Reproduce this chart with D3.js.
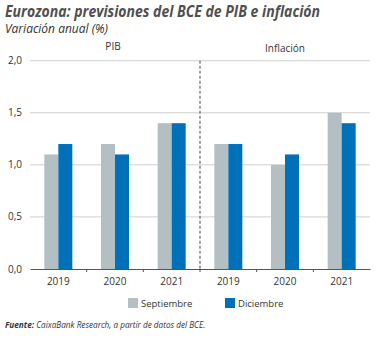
<!DOCTYPE html>
<html><head><meta charset="utf-8">
<script src="https://cdn.jsdelivr.net/npm/d3@7"></script>
<style>body{margin:0;background:#fff;} svg{display:block;font-family:"Open Sans",sans-serif;}</style>
</head><body>
<svg id="c" width="389" height="338"></svg>
<script>
const categories = ["2019","2020","2021","2019 ","2020 ","2021 "];
const tickLabels = ["2019","2020","2021","2019","2020","2021"];
const groups = ["PIB","Inflación"];
const septiembre = [1.1,1.2,1.4,1.2,1.0,1.5];
const diciembre = [1.2,1.1,1.4,1.2,1.1,1.4];
const yTicks = [0,0.5,1,1.5,2];
const seriesNames = ["Septiembre","Diciembre"];
const colors = ["#b4bfc4","#0071b9"];

const svg = d3.select("#c");
const L=30, R=370, T=60.7, B=269;
const x = d3.scaleBand().domain(categories).range([L,R]);
const y = d3.scaleLinear().domain([0,2]).range([B,T]);
const fmt = d => d3.format(".1f")(d).replace(".",",");

// title
svg.append("text").attr("x",5).attr("y",16.5).attr("font-size",15.5).attr("font-weight","bold").attr("font-style","italic").attr("fill","#505050").attr("textLength",315).attr("lengthAdjust","spacingAndGlyphs").text("Eurozona: previsiones del BCE de PIB e inflación");
svg.append("text").attr("x",5).attr("y",33).attr("font-size",12).attr("font-style","italic").attr("fill","#333").attr("textLength",103).attr("lengthAdjust","spacingAndGlyphs").text("Variación anual (%)");

// grid
svg.append("g").selectAll("line").data(yTicks.filter(d=>d>0)).join("line")
 .attr("x1",L).attr("x2",R).attr("y1",d=>y(d)).attr("y2",d=>y(d)).attr("stroke","#cfcfcf").attr("stroke-width",1);
svg.append("g").selectAll("text").data(yTicks).join("text")
 .attr("x",22).attr("y",d=>y(d)+3.5).attr("text-anchor","end").attr("font-size",10).attr("fill","#333").text(fmt);

// bars
const bw = 14;
const bars = svg.append("g");
categories.forEach((c,i)=>{
  const cx = x(c)+x.bandwidth()/2;
  bars.append("rect").attr("x",cx-bw).attr("width",bw).attr("y",y(septiembre[i])).attr("height",B-y(septiembre[i])).attr("fill",colors[0]);
  bars.append("rect").attr("x",cx).attr("width",bw).attr("y",y(diciembre[i])).attr("height",B-y(diciembre[i])).attr("fill",colors[1]);
});

// x axis
const xa = d3.axisBottom(x).tickSize(0).tickFormat((d,i)=>tickLabels[i]);
const gx = svg.append("g").attr("transform",`translate(0,${B})`).call(xa);
gx.select(".domain").attr("stroke","#555");
gx.selectAll("text").attr("font-size",10).attr("fill","#333").attr("dy","1.3em").attr("font-family","Open Sans");
// between-category ticks
svg.append("g").selectAll("line").data(categories.slice(1)).join("line")
 .attr("x1",d=>x(d)).attr("x2",d=>x(d)).attr("y1",B).attr("y2",B+3).attr("stroke","#555");

// divider
svg.append("line").attr("x1",x(categories[3])).attr("x2",x(categories[3])).attr("y1",T).attr("y2",B+2).attr("stroke","#666").attr("stroke-width",1.2).attr("stroke-dasharray","3,2");

// group labels
svg.append("text").attr("x",(x(categories[0])+x(categories[3]))/2-2).attr("y",50).attr("text-anchor","middle").attr("font-size",10).attr("fill","#333").text(groups[0]);
svg.append("text").attr("x",(x(categories[3])+R)/2).attr("y",52).attr("text-anchor","middle").attr("font-size",10).attr("fill","#333").text(groups[1]);

// legend
const lx=[128,225];
seriesNames.forEach((s,i)=>{
  svg.append("rect").attr("x",lx[i]).attr("y",298).attr("width",10).attr("height",10).attr("fill",colors[i]);
  svg.append("text").attr("x",lx[i]+13).attr("y",307).attr("font-size",9.5).attr("fill","#333").text(s);
});

// source
const src = svg.append("text").attr("x",5).attr("y",328).attr("font-size",8.2).attr("font-style","italic").attr("fill","#333");
src.append("tspan").attr("font-weight","bold").text("Fuente:");
src.append("tspan").text(" CaixaBank Research, a partir de datos del BCE.");
</script>
</body></html>
